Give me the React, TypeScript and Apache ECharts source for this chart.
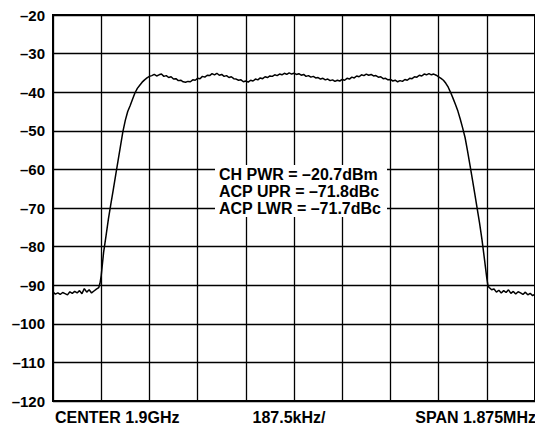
import React, { useEffect, useRef } from "react";
import * as echarts from "echarts";

// x in horizontal divisions (0..10), y in dBm
const leftFloor: [number, number][] = [
  [0.0, -91.8], [0.05, -92.3], [0.1, -92.0], [0.15, -92.4], [0.2, -91.9], [0.25, -92.2],
  [0.3, -92.5], [0.35, -91.7], [0.4, -92.1], [0.45, -91.6], [0.5, -92.0], [0.55, -91.4],
  [0.6, -92.2], [0.65, -90.9], [0.7, -91.8], [0.75, -91.2], [0.8, -92.0], [0.85, -91.5],
  [0.9, -91.0], [0.95, -90.6], [0.975, -89.5],
];
const riseEdge: [number, number][] = [
  [1.0, -87.5], [1.05, -81.5], [1.1, -77.2], [1.15, -72.8], [1.2, -69.0], [1.25, -65.3],
  [1.3, -61.5], [1.35, -57.7], [1.4, -54.0], [1.45, -50.2], [1.5, -47.3], [1.55, -45.0],
  [1.6, -43.5], [1.65, -41.8], [1.7, -40.2], [1.75, -39.0], [1.8, -38.2], [1.85, -37.4],
  [1.9, -36.8], [1.95, -36.3], [2.0, -35.9],
];
const topRipple: [number, number][] = [
  [2.05, -35.7], [2.1, -35.4], [2.15, -35.8], [2.2, -35.5], [2.25, -35.3], [2.3, -35.9],
  [2.35, -35.7], [2.4, -36.2], [2.45, -36.0], [2.5, -36.6], [2.55, -36.5], [2.6, -37.0],
  [2.65, -36.9], [2.7, -37.3], [2.75, -37.4], [2.8, -37.2], [2.85, -37.3], [2.9, -36.8],
  [2.95, -36.9], [3.0, -36.4], [3.05, -36.5], [3.1, -35.9], [3.15, -36.1], [3.2, -35.6],
  [3.25, -35.7], [3.3, -35.2], [3.35, -35.5], [3.4, -35.1], [3.45, -35.6], [3.5, -35.4],
  [3.55, -35.9], [3.6, -35.7], [3.65, -36.2], [3.7, -36.0], [3.75, -36.5], [3.8, -36.6],
  [3.85, -36.9], [3.9, -36.8], [3.95, -37.3], [4.0, -37.1], [4.05, -37.4], [4.1, -36.9],
  [4.15, -37.1], [4.2, -36.6], [4.25, -36.8], [4.3, -36.3], [4.35, -36.5], [4.4, -36.0],
  [4.45, -36.2], [4.5, -35.8], [4.55, -35.9], [4.6, -35.5], [4.65, -35.7], [4.7, -35.3],
  [4.75, -35.5], [4.8, -35.1], [4.85, -35.4], [4.9, -35.0], [4.95, -35.3], [5.0, -35.1],
  [5.05, -35.4], [5.1, -35.2], [5.15, -35.6], [5.2, -35.4], [5.25, -35.9], [5.3, -35.7],
  [5.35, -36.1], [5.4, -35.9], [5.45, -36.3], [5.5, -36.2], [5.55, -36.6], [5.6, -36.4],
  [5.65, -36.8], [5.7, -36.6], [5.75, -37.0], [5.8, -36.8], [5.85, -37.2], [5.9, -36.9],
  [5.95, -37.1], [6.0, -36.7], [6.05, -36.9], [6.1, -36.4], [6.15, -36.6], [6.2, -36.1],
  [6.25, -36.3], [6.3, -35.8], [6.35, -36.0], [6.4, -35.5], [6.45, -35.7], [6.5, -35.3],
  [6.55, -35.6], [6.6, -35.4], [6.65, -35.8], [6.7, -35.7], [6.75, -36.1], [6.8, -36.0],
  [6.85, -36.5], [6.9, -36.4], [6.95, -36.8], [7.0, -36.7], [7.05, -37.1], [7.1, -36.9],
  [7.15, -37.3], [7.2, -37.0], [7.25, -37.2], [7.3, -36.7], [7.35, -36.9], [7.4, -36.4],
  [7.45, -36.5], [7.5, -36.0], [7.55, -36.1], [7.6, -35.6], [7.65, -35.8], [7.7, -35.3],
  [7.75, -35.5], [7.8, -35.2], [7.85, -35.5], [7.9, -35.3], [7.95, -35.6], [8.0, -36.0],
];
const fallEdge: [number, number][] = [
  [8.05, -36.4], [8.1, -36.9], [8.15, -37.7], [8.2, -38.7], [8.25, -40.1], [8.3, -41.6],
  [8.35, -43.2], [8.4, -44.9], [8.45, -47.0], [8.5, -49.3], [8.55, -51.8], [8.6, -55.2],
  [8.65, -58.8], [8.7, -62.5], [8.75, -66.3], [8.8, -70.1], [8.85, -73.9], [8.9, -78.2],
  [8.95, -83.1], [9.0, -88.2], [9.025, -90.2], [9.05, -90.6],
];
const rightFloor: [number, number][] = [
  [9.1, -91.2], [9.15, -91.0], [9.2, -91.8], [9.25, -91.3], [9.3, -92.0], [9.35, -91.4],
  [9.4, -91.9], [9.45, -91.2], [9.5, -92.1], [9.55, -91.6], [9.6, -92.3], [9.65, -91.7],
  [9.7, -92.0], [9.75, -92.4], [9.8, -91.8], [9.85, -92.5], [9.9, -92.1], [9.95, -92.7],
  [10.0, -92.3],
];

const bottomLabels = ["CENTER 1.9GHz", "187.5kHz/", "SPAN 1.875MHz"];
const readouts = ["CH PWR = –20.7dBm", "ACP UPR = –71.8dBc", "ACP LWR = –71.7dBc"];

const FONT = '"Liberation Sans", Arial, sans-serif';

export default function App() {
  const ref = useRef<HTMLDivElement>(null);
  useEffect(() => {
    if (!ref.current) return;
    const chart = echarts.init(ref.current, null, { renderer: "svg" });
    const trace = [...leftFloor, ...riseEdge, ...topRipple, ...fallEdge, ...rightFloor];
    chart.setOption({
      animation: false,
      backgroundColor: "#fff",
      grid: {
        left: 53,
        top: 15,
        width: 483,
        height: 386,
        show: true,
        borderColor: "#000",
        borderWidth: 2,
        backgroundColor: "#fff",
      },
      xAxis: {
        type: "value",
        min: 0,
        max: 10,
        interval: 1,
        axisLine: { show: false },
        axisTick: { show: false },
        axisLabel: { show: false },
        splitLine: { show: true, lineStyle: { color: "#000", width: 1.3 } },
      },
      yAxis: {
        type: "value",
        min: -120,
        max: -20,
        interval: 10,
        axisLine: { show: false },
        axisTick: { show: false },
        splitLine: { show: true, lineStyle: { color: "#000", width: 1.3 } },
        axisLabel: {
          margin: 8,
          color: "#000",
          fontFamily: FONT,
          fontWeight: "bold",
          fontSize: 15,
          padding: [9, 0, 0, 0],
          formatter: (v: number) => (v < 0 ? "–" + Math.abs(v) : String(v)),
        },
      },
      series: [
        {
          type: "line",
          data: trace,
          showSymbol: false,
          lineStyle: { color: "#000", width: 1.5 },
          z: 3,
        },
      ],
      graphic: [
        {
          type: "rect",
          shape: { x: 215, y: 165, width: 172, height: 52 },
          style: { fill: "#fff" },
          z: 10,
        },
        ...readouts.map((t, i) => ({
          type: "text",
          x: 219,
          y: 174 + i * 17.3,
          z: 11,
          style: {
            text: t,
            fill: "#000",
            font: `bold 16px ${FONT}`,
            verticalAlign: "middle",
          },
        })),
        {
          type: "text",
          x: 55,
          y: 417,
          z: 11,
          style: { text: bottomLabels[0], fill: "#000", font: `bold 16px ${FONT}`, verticalAlign: "middle", align: "left" },
        },
        {
          type: "text",
          x: 289,
          y: 417,
          z: 11,
          style: { text: bottomLabels[1], fill: "#000", font: `bold 16px ${FONT}`, verticalAlign: "middle", align: "center" },
        },
        {
          type: "text",
          x: 536,
          y: 417,
          z: 11,
          style: { text: bottomLabels[2], fill: "#000", font: `bold 16px ${FONT}`, verticalAlign: "middle", align: "right" },
        },
      ],
    });
    return () => chart.dispose();
  }, []);
  return (
    <div
      ref={ref}
      style={{ position: "absolute", left: 0, top: 0, width: 535, height: 425 }}
    />
  );
}
